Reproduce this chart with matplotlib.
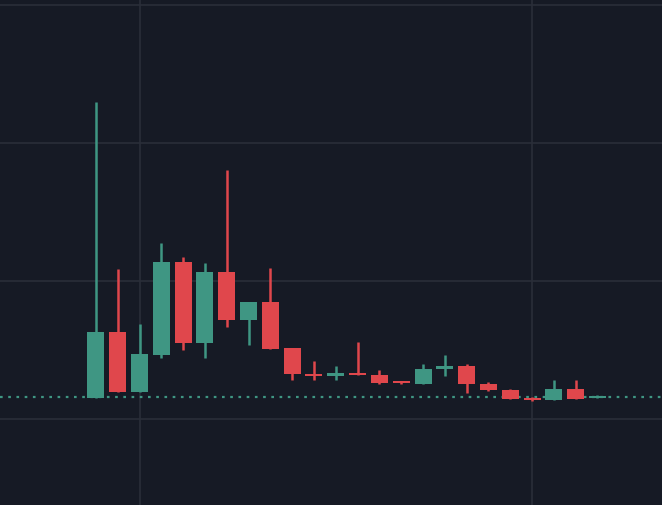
import matplotlib.pyplot as plt

# candle values (arbitrary price units)
opens = [107, 173, 113, 150, 243, 162, 233, 185, 203, 157, 131, 129, 132, 130, 124, 121, 136, 139, 121, 115, 107, 105, 116, 107.5]
closes = [173, 113, 151, 243, 162, 233, 185, 203, 156, 131, 129, 132, 130, 122, 122, 136, 139, 121, 115, 106, 105, 116, 106, 108.5]
highs = [403, 236, 181, 262, 248, 242, 335, 203, 237, 157, 144, 139, 163, 135, 124, 141, 150, 141, 123, 116, 108, 125, 125, 110]
lows = [107, 113, 113, 147, 155, 147, 178, 160, 156, 125, 125, 125, 130, 121, 121, 121, 129, 112, 114, 106, 104, 105, 106, 107]
last_price = 108
grid_y = [86, 224, 362, 500]
grid_x = [2, 20]

green = "#3f9683"
red = "#e0474c"
bg = "#161a25"

fig = plt.figure(figsize=(6.62, 5.05), dpi=100)
ax = fig.add_axes([0, 0, 1, 1])
fig.patch.set_facecolor(bg)
ax.set_facecolor(bg)

for y in grid_y:
    ax.axhline(y, color="#2a2e39", lw=1.2, zorder=0)
for x in grid_x:
    ax.axvline(x, color="#2a2e39", lw=1.2, zorder=0)

for i, (o, c, h, l) in enumerate(zip(opens, closes, highs, lows)):
    col = green if c >= o else red
    ax.vlines(i, l, h, color=col, lw=1.8, zorder=2)
    ax.bar(i, max(abs(c - o), 1.5), bottom=min(o, c), width=0.78, color=col, zorder=3)

ax.axhline(last_price, color="#3f9683", lw=1.6, ls=(0, (1.2, 2.5)), zorder=1)

ax.set_xlim(-4.4, 25.96)
ax.set_ylim(0, 505)
ax.axis("off")
fig.savefig("out.png", dpi=100, facecolor=bg)
